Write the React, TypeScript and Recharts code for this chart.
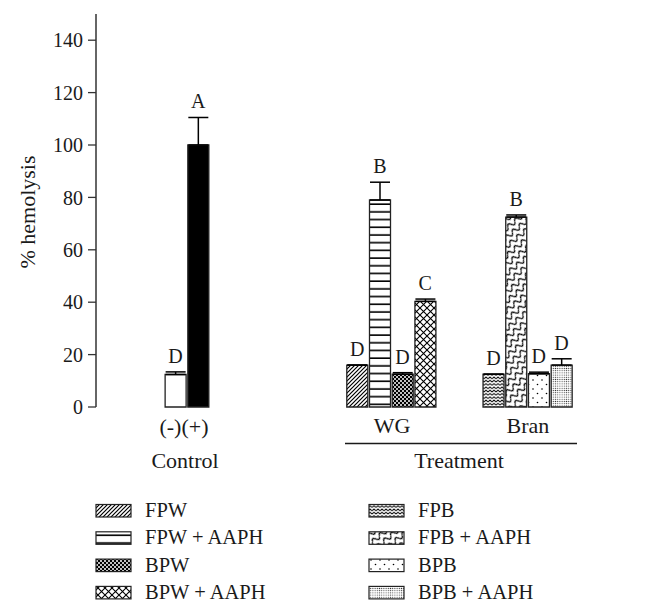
import { Bar, Cell, ComposedChart, ErrorBar, Scatter, XAxis, YAxis } from "recharts";

const FONT = '"Liberation Serif", "Times New Roman", serif';
const INK = "#1a1a1a";
const FRAME = "#333";

// 24 equal slots across the plot; bars sit in a few of them
const SLOT_COUNT = 24;
const BAR_SLOTS = [3, 4, 11, 12, 13, 14, 17, 18, 19, 20];

const SERIES = ["(-)", "(+)", "FPW", "FPW + AAPH", "BPW", "BPW + AAPH", "FPB", "FPB + AAPH", "BPB", "BPB + AAPH"];
const VALUES = [12.4, 100, 16, 79, 12.5, 40.3, 12.5, 72.5, 12.7, 16];
const ERRORS = [1.0, 10.5, 0, 6.8, 0.6, 0.9, 0, 0.8, 0.6, 2.4];
const LETTERS = ["D", "A", "D", "B", "D", "C", "D", "B", "D", "D"];
const FILLS = ["#fff", "#000", "url(#pFPW)", "url(#pFPWA)", "url(#pBPW)", "url(#pBPWA)", "url(#pFPB)", "url(#pFPBA)", "url(#pBPB)", "url(#pBPBA)"];

const Y_TICKS = [0, 20, 40, 60, 80, 100, 120, 140];

const SUB_LABELS = ["(-)(+)", "WG", "Bran"];
const GROUP_LABELS = ["Control", "Treatment"];

const LEGEND_LEFT = ["FPW", "FPW + AAPH", "BPW", "BPW + AAPH"];
const LEGEND_RIGHT = ["FPB", "FPB + AAPH", "BPB", "BPB + AAPH"];

const rows = Array.from({ length: SLOT_COUNT }, (_, i) => {
  const k = BAR_SLOTS.indexOf(i);
  if (k < 0) return { slot: `s${i}`, value: null, err: undefined, top: null, letter: undefined, fill: "none" };
  return {
    slot: `s${i}`,
    name: SERIES[k],
    value: VALUES[k],
    err: [0, ERRORS[k]],
    top: VALUES[k] + ERRORS[k],
    letter: LETTERS[k],
    fill: FILLS[k],
  };
});

function LetterMark(props: any) {
  const { cx, cy, payload } = props;
  if (!payload || !payload.letter || cx == null || cy == null) return null;
  return (
    <text x={cx} y={cy - 9} textAnchor="middle" fontFamily={FONT} fontSize={20} fill={INK}>
      {payload.letter}
    </text>
  );
}

function Patterns() {
  return (
    <defs>
      <pattern id="pFPW" width="4" height="4" patternUnits="userSpaceOnUse">
        <rect width="4" height="4" fill="#fff" />
        <path d="M-1,1 l2,-2 M0,4 l4,-4 M3,5 l2,-2" stroke="#000" strokeWidth="1.2" />
      </pattern>
      <pattern id="pFPWA" width="8" height="7.7" patternUnits="userSpaceOnUse">
        <rect width="8" height="7.7" fill="#fff" />
        <line x1="0" y1="4" x2="8" y2="4" stroke="#000" strokeWidth="1.6" />
      </pattern>
      <pattern id="pBPW" width="4" height="4" patternUnits="userSpaceOnUse">
        <rect width="4" height="4" fill="#000" />
        <circle cx="1" cy="1" r="1" fill="#fff" />
        <circle cx="3" cy="3" r="1" fill="#fff" />
      </pattern>
      <pattern id="pBPWA" width="7" height="7" patternUnits="userSpaceOnUse">
        <rect width="7" height="7" fill="#fff" />
        <path d="M0,0 L7,7 M7,0 L0,7" stroke="#000" strokeWidth="1.1" />
      </pattern>
      <pattern id="pFPB" width="4" height="3.3" patternUnits="userSpaceOnUse">
        <rect width="4" height="3.3" fill="#fff" />
        <path d="M0,2.6 L2,0.8 L4,2.6" stroke="#000" strokeWidth="1" fill="none" />
      </pattern>
      <pattern id="pFPBA" width="9" height="7" patternUnits="userSpaceOnUse" patternTransform="rotate(-40)">
        <rect width="9" height="7" fill="#fff" />
        <path d="M0,3.5 C1.5,0.5 3,0.5 4.5,3.5 S7.5,6.5 9,3.5" stroke="#000" strokeWidth="1.3" fill="none" />
      </pattern>
      <pattern id="pBPB" width="9" height="9" patternUnits="userSpaceOnUse">
        <rect width="9" height="9" fill="#fff" />
        <circle cx="2" cy="2" r="0.8" fill="#000" />
        <circle cx="6.5" cy="6.5" r="0.8" fill="#000" />
      </pattern>
      <pattern id="pBPBA" width="2.2" height="2.2" patternUnits="userSpaceOnUse">
        <rect width="2.2" height="2.2" fill="#fff" />
        <circle cx="1.1" cy="1.1" r="0.6" fill="#333" />
      </pattern>
    </defs>
  );
}

export default function App() {
  return (
    <div style={{ position: "absolute", left: 0, top: 0, width: 656, height: 614, background: "#fff", overflow: "hidden" }}>
      <ComposedChart
        width={656}
        height={440}
        data={rows}
        margin={{ top: 14, right: 15, bottom: 33, left: 0 }}
        barCategoryGap={0}
        barGap={0}
      >
        <XAxis dataKey="slot" tick={false} tickLine={false} height={0} axisLine={{ stroke: FRAME, strokeWidth: 1.5 }} />
        <XAxis xAxisId="top" orientation="top" dataKey="slot" tick={false} tickLine={false} height={0} axisLine={{ stroke: FRAME, strokeWidth: 1.5 }} />
        <YAxis
          domain={[0, 150]}
          ticks={Y_TICKS}
          width={96}
          tickSize={8}
          tickMargin={5}
          interval={0}
          tick={{ fill: INK, fontSize: 20, fontFamily: FONT }}
          axisLine={{ stroke: FRAME, strokeWidth: 1.5 }}
          tickLine={{ stroke: FRAME, strokeWidth: 1.3 }}
        />
        <YAxis yAxisId="right" orientation="right" width={0} tick={false} tickLine={false} axisLine={{ stroke: FRAME, strokeWidth: 1.5 }} />
        <Bar dataKey="value" barSize={21} stroke="#222" strokeWidth={1.3} isAnimationActive={false}>
          {rows.map((r) => (
            <Cell key={r.slot} fill={r.fill} />
          ))}
          <ErrorBar dataKey="err" direction="y" width={10} stroke="#000" strokeWidth={1.5} isAnimationActive={false} />
        </Bar>
        <Scatter dataKey="top" shape={<LetterMark />} isAnimationActive={false} />
      </ComposedChart>

      <svg width={656} height={614} style={{ position: "absolute", left: 0, top: 0, pointerEvents: "none" }}>
        <Patterns />
        <g fontFamily={FONT} fontSize={22} fill={INK} textAnchor="middle">
          <text x={184} y={434}>{SUB_LABELS[0]}</text>
          <text x={392} y={433}>{SUB_LABELS[1]}</text>
          <text x={528} y={433}>{SUB_LABELS[2]}</text>
          <line x1={345} x2={577} y1={443.5} y2={443.5} stroke={INK} strokeWidth={1.5} />
          <text x={185} y={468}>{GROUP_LABELS[0]}</text>
          <text x={459} y={468}>{GROUP_LABELS[1]}</text>
          <text x={27} y={212} transform="rotate(-90 27 212)" dominantBaseline="central">% hemolysis</text>
        </g>
        <g fontFamily={FONT} fontSize={20.5} fill={INK}>
          {LEGEND_LEFT.map((name, i) => {
            const k = SERIES.indexOf(name);
            const y = 517 + i * 27.3;
            return (
              <g key={name}>
                <rect x={96} y={y - 12.5} width={35} height={12.5} fill={FILLS[k]} stroke="#222" strokeWidth={1.2} />
                <text x={145} y={y}>{name}</text>
              </g>
            );
          })}
          {LEGEND_RIGHT.map((name, i) => {
            const k = SERIES.indexOf(name);
            const y = 517 + i * 27.3;
            return (
              <g key={name}>
                <rect x={369} y={y - 12.5} width={35} height={12.5} fill={FILLS[k]} stroke="#222" strokeWidth={1.2} />
                <text x={418} y={y}>{name}</text>
              </g>
            );
          })}
        </g>
      </svg>
    </div>
  );
}
